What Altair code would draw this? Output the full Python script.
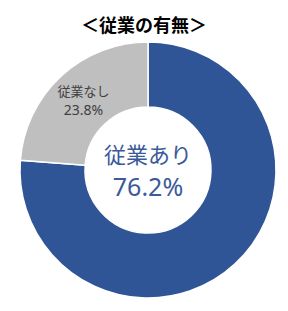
import altair as alt
import pandas as pd

categories = ["従業あり", "従業なし"]
values = [76.2, 23.8]
colors = ["#2F5597", "#BFBFBF"]
title_text = "＜従業の有無＞"

df = pd.DataFrame({"cat": categories, "val": values, "order": [0, 1]})
df["pct"] = [f"{v}%" for v in values]

FONT = "Noto Sans CJK JP"
theta_scale = alt.Scale(domain=[0, sum(values)])

arcs = alt.Chart(df).mark_arc(outerRadius=128, innerRadius=63, stroke="white", strokeWidth=1.5).encode(
    theta=alt.Theta("val:Q", stack=True, scale=theta_scale),
    order=alt.Order("order:Q"),
    x=alt.value(148), y=alt.value(170),
    color=alt.Color("cat:N", scale=alt.Scale(domain=categories, range=colors), legend=None),
)

stacked = alt.Chart(df).transform_window(
    cum="sum(val)", sort=[alt.SortField("order")]
).transform_calculate(mid="datum.cum - datum.val / 2").transform_filter(
    alt.datum.cat == categories[1]
)

side_name = stacked.mark_text(font=FONT, fontSize=13, color="#404040", baseline="middle").encode(
    theta=alt.Theta("mid:Q", scale=theta_scale),
    x=alt.value(148), y=alt.value(162), radius=alt.value(95), text="cat:N"
)
side_pct = stacked.mark_text(font="Noto Sans", fontSize=14, color="#404040", baseline="middle").encode(
    theta=alt.Theta("mid:Q", scale=theta_scale),
    x=alt.value(148), y=alt.value(181), radius=alt.value(95), text="pct:N"
)

main = alt.Chart(df).transform_filter(alt.datum.cat == categories[0])
center_name = main.mark_text(font=FONT, fontSize=22, color="#3A5A9A", baseline="middle").encode(
    x=alt.value(148), y=alt.value(156), text="cat:N")
center_pct = main.mark_text(font="Noto Sans", fontSize=25, color="#3A5A9A", baseline="middle").encode(
    x=alt.value(148), y=alt.value(188), text="pct:N")

chart = alt.layer(arcs, side_name, side_pct, center_name, center_pct).properties(
    width=288, height=311, padding=0,
    autosize=alt.AutoSizeParams(type="none"),
    title=alt.TitleParams(title_text, font=FONT, fontSize=18, fontWeight="bold", color="#000000",
                          anchor="middle", offset=-36),
).configure_view(stroke=None)

chart.save("out.html", embed_options={"renderer": "svg", "actions": False})
